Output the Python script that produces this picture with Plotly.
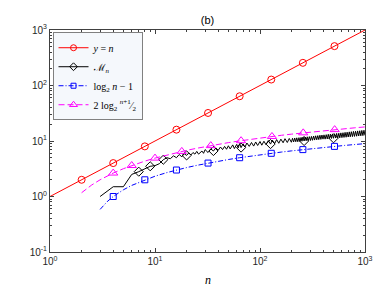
import plotly.graph_objects as go

# ---- data ----
# y = n
red_x = [1, 1000]
red_y = [1, 1000]
red_mx = [2, 4, 8, 16, 32, 64, 128, 256, 512]
red_my = [2, 4, 8, 16, 32, 64, 128, 256, 512]

# M_n (jagged)
blk_x = [3, 4, 5, 6, 7, 8, 9, 10, 11, 12, 13, 14, 15, 16, 17, 18, 19, 20, 21, 22, 23, 24, 25, 26, 28, 29, 30,
         32, 34, 36, 38, 40, 42, 44, 46, 48, 50, 52, 55, 57, 60, 62, 64, 66, 69, 72, 75, 79, 83, 87, 91, 95,
         100, 104, 109, 114, 120, 126, 131, 138, 144, 151, 158, 166, 173, 182, 190,
         199, 204, 209, 214, 219, 224, 229, 235, 240, 246, 251, 257, 263, 269, 275, 282, 288, 295, 302, 309,
         316, 324, 331, 339, 347, 355, 363, 372, 380, 389, 398, 407, 417, 427, 437, 447, 457, 468, 479, 490,
         501, 513, 525, 537, 550, 563, 575, 589, 603, 617, 631, 646, 661, 676, 692, 708, 724, 741, 759, 776,
         794, 813, 832, 851, 871, 891, 912, 933, 955, 977, 1000]
blk_y = [1.0, 1.5, 1.5, 2.5, 2.8, 3.2, 3.5, 3.6, 3.9, 4.6, 5.0, 4.8, 5.4, 5.0, 5.7, 5.2, 5.9, 5.5, 6.1, 5.6, 6.2, 5.8, 6.5, 5.8, 6.6, 6.0, 7.0,
         6.2, 7.2, 6.6, 7.5, 6.8, 7.8, 7.0, 8.0, 7.1, 8.2, 7.2, 8.5, 7.3, 8.7, 7.5, 9.0, 7.6, 8.9, 7.8, 9.2, 8.0, 9.4, 8.1, 9.6, 8.3,
         9.8, 8.4, 9.9, 8.6, 10.2, 8.8, 10.4, 9.0, 10.6, 9.1, 10.8, 9.3, 11.0, 9.4, 11.1,
         9.5, 11.2, 9.6, 11.3, 9.7, 11.4, 9.7, 11.5, 9.8, 11.6, 9.9, 11.7, 10.0, 11.8, 10.1, 11.9, 10.2, 12.0, 10.2, 12.1,
         10.3, 12.3, 10.4, 12.4, 10.5, 12.5, 10.6, 12.7, 10.7, 12.8, 10.8, 12.9, 10.8, 13.0, 10.9, 13.2, 11.0, 13.3, 11.1, 13.4,
         11.2, 13.5, 11.3, 13.7, 11.3, 13.8, 11.4, 14.0, 11.5, 14.1, 11.6, 14.3, 11.7, 14.4, 11.8, 14.6, 11.9, 14.7, 12.0, 14.9,
         12.1, 15.0, 12.2, 15.2, 12.3, 15.3, 12.4, 15.5, 12.5, 15.6, 12.6]
blk_mx = [7, 9, 12, 20, 36, 66, 126, 263, 501]
blk_my = [2.8, 3.5, 4.6, 5.5, 6.6, 7.6, 8.8, 10.0, 11.2]

# log2 n - 1
blu_x = [3, 3.5, 4, 5, 6, 8, 10, 13, 16, 20, 25, 32, 40, 50, 64, 80, 100, 128, 160, 200, 256, 320, 400, 512, 640, 800, 1000]
blu_y = [0.585, 0.807, 1.0, 1.32, 1.585, 2.0, 2.32, 2.70, 3.0, 3.32, 3.64, 4.0, 4.32, 4.64, 5.0, 5.32, 5.64, 6.0, 6.32,
         6.64, 7.0, 7.32, 7.64, 8.0, 8.32, 8.64, 8.97]
blu_mx = [4, 8, 16, 32, 64, 128, 256, 512]
blu_my = [1, 2, 3, 4, 5, 6, 7, 8]

# 2 log2 ((n+1)/2)
mag_x = [2, 2.5, 3, 4, 5, 6, 8, 10, 13, 16, 20, 25, 32, 40, 50, 64, 80, 100, 128, 160, 200, 256, 320, 400, 512, 640, 800, 1000]
mag_y = [1.17, 1.615, 2.0, 2.644, 3.17, 3.615, 4.34, 4.92, 5.61, 6.17, 6.78, 7.40, 8.09, 8.72, 9.35, 10.04, 10.68, 11.32,
         12.02, 12.68, 13.30, 14.01, 14.66, 15.30, 16.0, 16.65, 17.29, 17.93]
mag_mx = [4, 6, 10, 18, 34, 66, 130, 258, 514]
mag_my = [2.644, 3.615, 4.92, 6.50, 8.26, 10.13, 12.07, 14.03, 16.02]

x_ticks = [1, 10, 100, 1000]
x_labels = ["10<sup>0</sup>", "10<sup>1</sup>", "10<sup>2</sup>", "10<sup>3</sup>"]
y_ticks = [0.1, 1, 10, 100, 1000]
y_labels = ["10<sup>-1</sup>", "10<sup>0</sup>", "10<sup>1</sup>", "10<sup>2</sup>", "10<sup>3</sup>"]

names = ["<i>y</i> = <i>n</i>", "\u2133<sub><i>n</i></sub>", "log<sub>2</sub> <i>n</i> \u2212 1",
         "2 log<sub>2</sub> <sup><i>n</i>+1</sup>\u2044<sub>2</sub>"]

# ---- figure ----
RED, BLK, BLU, MAG = "#ff0000", "#000000", "#0000ff", "#ff00ff"
fig = go.Figure()

def series(x, y, mx, my, color, dash, symbol, msize, name):
    fig.add_trace(go.Scatter(x=x, y=y, mode="lines", line=dict(color=color, width=1, dash=dash),
                             showlegend=False, hoverinfo="skip"))
    fig.add_trace(go.Scatter(x=mx, y=my, mode="markers",
                             marker=dict(symbol=symbol, size=msize, color=color, line=dict(width=1, color=color)),
                             showlegend=False))
    fig.add_trace(go.Scatter(x=[None], y=[None], mode="lines+markers", name=name,
                             line=dict(color=color, width=1, dash=dash),
                             marker=dict(symbol=symbol, size=msize - 1, color=color, line=dict(width=1, color=color))))

series(red_x, red_y, red_mx, red_my, RED, "solid", "circle-open", 7, names[0])
series(blk_x, blk_y, blk_mx, blk_my, BLK, "solid", "diamond-open", 7, names[1])
series(blu_x, blu_y, blu_mx, blu_my, BLU, "5px,2px,1px,2px", "square-open", 6, names[2])
series(mag_x, mag_y, mag_mx, mag_my, MAG, "6px,3px", "triangle-up-open", 8, names[3])

minor_x = [d * 10 ** k for k in range(0, 3) for d in range(2, 10)]
minor_y = [d * 10 ** k for k in range(-1, 3) for d in range(2, 10)]

axis_common = dict(type="log", showline=True, linecolor="#404040", linewidth=1, mirror="ticks",
                   ticks="inside", ticklen=4, tickcolor="#404040", showgrid=False, zeroline=False,
                   tickfont=dict(family="Liberation Sans, Arial", size=10, color="#262626"))

fig.update_layout(
    width=390, height=294,
    margin=dict(l=42, r=33, t=22, b=50),
    paper_bgcolor="white", plot_bgcolor="white",
    title=dict(text="(b)", x=0.5, xref="paper", y=1 - 12 / 294, yref="container", yanchor="middle",
               xanchor="center", font=dict(family="Liberation Sans, Arial", size=11, color="#000")),
    xaxis=dict(range=[0, 3], tickmode="array", tickvals=x_ticks, ticktext=x_labels,
               minor=dict(tickmode="array", tickvals=minor_x, ticks="inside", ticklen=2, tickcolor="#404040"),
               **axis_common),
    yaxis=dict(range=[-1, 3], tickmode="array", tickvals=y_ticks, ticktext=y_labels,
               minor=dict(tickmode="array", tickvals=minor_y, ticks="inside", ticklen=2, tickcolor="#404040"),
               **axis_common),
    legend=dict(x=0.008, y=0.99, xanchor="left", yanchor="top", bgcolor="#f5f8fc",
                bordercolor="#808080", borderwidth=1, tracegroupgap=0, itemwidth=30,
                font=dict(family="Liberation Serif, Times New Roman", size=10, color="#000")),
    annotations=[dict(text="<i>n</i>", x=0.5, xref="paper", y=-0.125, yref="paper", yanchor="middle",
                      showarrow=False, font=dict(family="Liberation Serif, Times New Roman", size=12, color="#000"))],
)

fig.write_html("out.html")
